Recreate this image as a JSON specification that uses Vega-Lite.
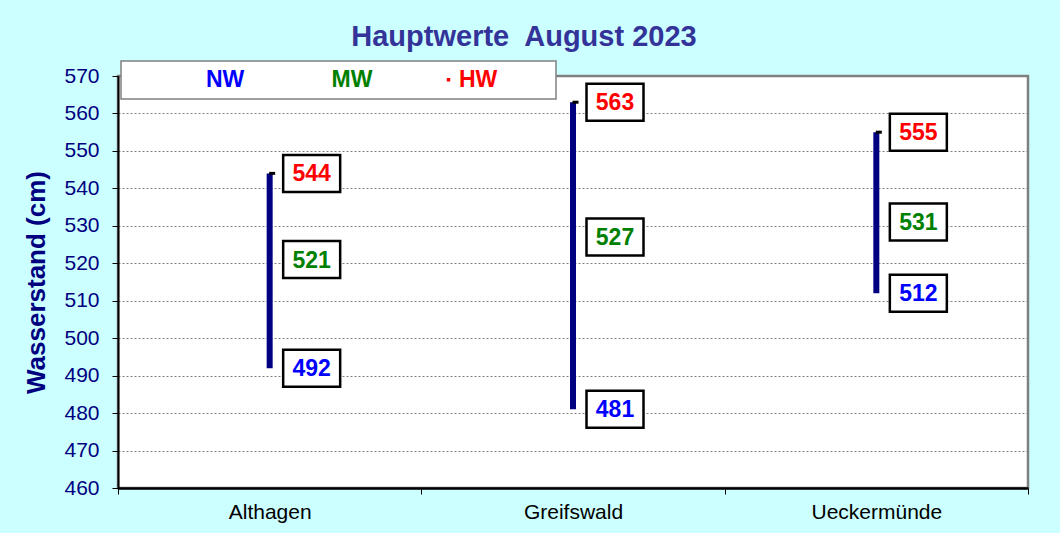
{
  "$schema": "https://vega.github.io/schema/vega-lite/v6.json",
  "width": 910,
  "height": 412,
  "autosize": {"type": "none"},
  "padding": {"left": 118, "top": 76, "right": 32, "bottom": 45},
  "background": "#ccffff",
  "title": {
    "text": "Hauptwerte\u00a0 August 2023",
    "font": "Liberation Sans",
    "fontSize": 29,
    "fontWeight": "bold",
    "color": "#333399",
    "anchor": "middle",
    "dx": -49,
    "offset": 8
  },
  "config": {
    "font": "Liberation Sans",
    "view": {"fill": "white", "stroke": "#808080", "strokeWidth": 2.5}
  },
  "data": {
    "values": [
      {"station": "Althagen", "NW": 492, "MW": 521, "HW": 544},
      {"station": "Greifswald", "NW": 481, "MW": 527, "HW": 563},
      {"station": "Ueckermünde", "NW": 512, "MW": 531, "HW": 555}
    ]
  },
  "encoding": {
    "x": {
      "field": "station",
      "type": "nominal",
      "sort": null,
      "scale": {"paddingInner": 0, "paddingOuter": 0},
      "axis": {
        "title": null,
        "labelAngle": 0,
        "labelFontSize": 21,
        "labelColor": "black",
        "labelPadding": 7,
        "tickBand": "extent",
        "tickSize": 6,
        "tickColor": "black",
        "domainColor": "black",
        "domainWidth": 2.5,
        "grid": false
      }
    }
  },
  "layer": [
    {
      "mark": {"type": "rule", "color": "#000080", "strokeWidth": 6},
      "encoding": {
        "y": {
          "field": "NW",
          "type": "quantitative",
          "scale": {"domain": [460, 570], "nice": false, "zero": false},
          "axis": {
            "title": "Wasserstand (cm)",
            "titleFontSize": 26,
            "titleFontWeight": "bold",
            "titleColor": "#000080",
            "titlePadding": 14,
            "labelFontSize": 21,
            "labelColor": "#000080",
            "labelPadding": 13,
            "labelOverlap": false,
            "tickSize": 6,
            "tickColor": "black",
            "domainColor": "black",
            "domainWidth": 2,
            "gridColor": "#808080",
            "gridDash": [2, 2],
            "gridWidth": 1
          }
        },
        "y2": {"field": "HW"}
      }
    },
    {
      "mark": {"type": "tick", "color": "black", "size": 6, "thickness": 3, "xOffset": 2.5, "orient": "horizontal", "opacity": 1},
      "encoding": {
        "y": {"field": "HW", "type": "quantitative"}
      }
    },
    {
      "transform": [{"fold": ["NW", "MW", "HW"], "as": ["typ", "wert"]}],
      "mark": {
        "type": "point",
        "shape": "M-1,-0.649H1V0.649H-1Z",
        "size": 3249,
        "filled": true,
        "fill": "white",
        "stroke": "black",
        "strokeWidth": 2.5,
        "opacity": 1,
        "xOffset": 42
      },
      "encoding": {
        "y": {"field": "wert", "type": "quantitative"}
      }
    },
    {
      "transform": [{"fold": ["NW", "MW", "HW"], "as": ["typ", "wert"]}],
      "mark": {
        "type": "text",
        "font": "Liberation Sans",
        "fontSize": 23,
        "fontWeight": "bold",
        "align": "center",
        "baseline": "middle",
        "xOffset": 42,
        "dy": 1
      },
      "encoding": {
        "y": {"field": "wert", "type": "quantitative"},
        "text": {"field": "wert", "type": "quantitative"},
        "color": {
          "field": "typ",
          "type": "nominal",
          "scale": {"domain": ["NW", "MW", "HW"], "range": ["#0000ff", "#008000", "#ff0000"]},
          "legend": {
            "orient": "none",
            "legendX": 3,
            "legendY": -15,
            "direction": "horizontal",
            "title": "\u00a0",
            "titleOrient": "left",
            "titleFontSize": 1,
            "titlePadding": 56,
            "padding": 7,
            "fillColor": "white",
            "strokeColor": "#808080",
            "labelFont": "Liberation Sans",
            "labelFontSize": 23,
            "labelFontWeight": "bold",
            "labelOffset": -1,
            "labelLimit": 500,
            "symbolType": "square",
            "symbolSize": 12,
            "symbolStrokeWidth": 0,
            "columnPadding": 64.5,
            "encode": {
              "legend": {"update": {"strokeWidth": {"value": 1.5}}},
              "labels": {"update": {
                "text": {"signal": "datum.value == 'HW' ? 'HW\u00a0\u00a0\u00a0\u00a0\u00a0\u00a0\u00a0\u00a0\u200b' : datum.label"},
                "fill": {"signal": "datum.value == 'NW' ? '#0000ff' : datum.value == 'MW' ? '#008000' : '#ff0000'"}
              }},
              "symbols": {"update": {"fill": {"value": "black"}, "opacity": {"signal": "datum.value == 'HW' ? 1 : 0"}}}
            }
          }
        }
      }
    }
  ]
}
